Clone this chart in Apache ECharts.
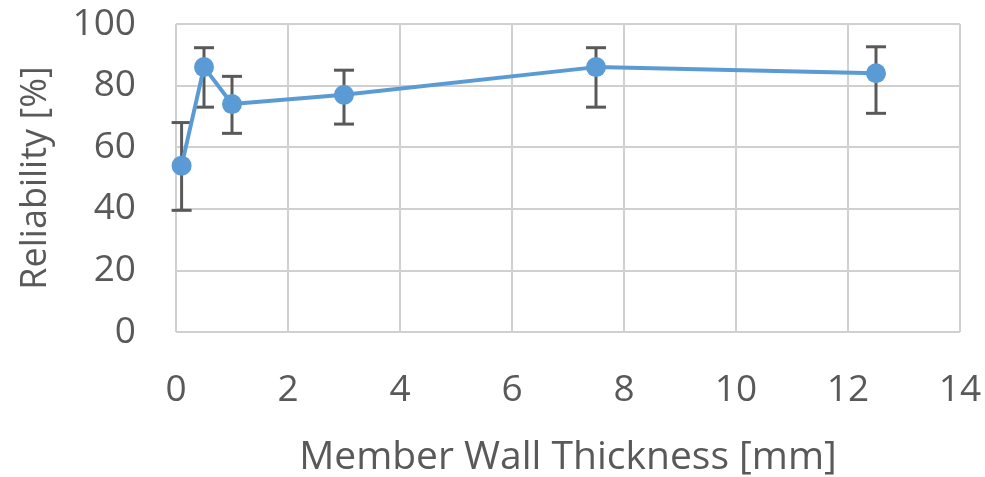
<!DOCTYPE html>
<html>
<head>
<meta charset="utf-8">
<script src="https://cdn.jsdelivr.net/npm/echarts@6/dist/echarts.min.js"></script>
<style>
  html, body { margin: 0; padding: 0; background: #fff; }
  #chart { width: 985px; height: 477px; }
</style>
</head>
<body>
<div id="chart"></div>
<script>
// Wall thickness [mm] and measured reliability [%] with error bar limits
const thickness = [0.1, 0.5, 1, 3, 7.5, 12.5];
const reliability = [54, 86, 74, 77, 86, 84];
const errLow = [39.5, 73, 64.5, 67.5, 73, 71];
const errHigh = [68, 92.3, 83, 85, 92.3, 92.6];

const xTitle = 'Member Wall Thickness [mm]';
const yTitle = 'Reliability [%]';

const textColor = '#595959';
const font = '"Open Sans", "Noto Sans", sans-serif';

const lineData = thickness.map((x, i) => [x, reliability[i]]);
const errData = thickness.map((x, i) => [x, errLow[i], errHigh[i]]);

const chart = echarts.init(document.getElementById('chart'));
chart.setOption({
  animation: false,
  grid: { left: 176, right: 25, top: 24, bottom: 145, outerBoundsMode: 'none' },
  xAxis: {
    type: 'value', min: 0, max: 14, interval: 2,
    name: xTitle, nameLocation: 'middle', nameGap: 106,
    nameTextStyle: { color: textColor, fontSize: 39, fontFamily: font },
    axisLine: { show: false }, axisTick: { show: false },
    axisLabel: { color: textColor, fontSize: 37, fontFamily: font, margin: 40 },
    splitLine: { show: true, lineStyle: { color: '#d0d0d0', width: 2 } }
  },
  yAxis: {
    type: 'value', min: 0, max: 100, interval: 20,
    name: yTitle, nameLocation: 'middle', nameGap: 122,
    nameTextStyle: { color: textColor, fontSize: 36, fontFamily: font },
    axisLine: { show: false }, axisTick: { show: false },
    axisLabel: { color: textColor, fontSize: 37, fontFamily: font, margin: 40 },
    splitLine: { show: true, lineStyle: { color: '#d0d0d0', width: 2 } }
  },
  series: [
    {
      type: 'custom',
      z: 3,
      data: errData,
      renderItem: function (params, api) {
        const x = api.value(0);
        const lo = api.coord([x, api.value(1)]);
        const hi = api.coord([x, api.value(2)]);
        const half = 10;
        const style = { stroke: '#595959', lineWidth: 3 };
        return {
          type: 'group',
          children: [
            { type: 'line', shape: { x1: lo[0], y1: lo[1], x2: hi[0], y2: hi[1] }, style: style },
            { type: 'line', shape: { x1: hi[0] - half, y1: hi[1], x2: hi[0] + half, y2: hi[1] }, style: style },
            { type: 'line', shape: { x1: lo[0] - half, y1: lo[1], x2: lo[0] + half, y2: lo[1] }, style: style }
          ]
        };
      }
    },
    {
      type: 'line',
      z: 4,
      data: lineData,
      symbol: 'circle',
      symbolSize: 20,
      lineStyle: { color: '#5B9BD5', width: 4 },
      itemStyle: { color: '#5B9BD5' }
    }
  ]
});
</script>
</body>
</html>
